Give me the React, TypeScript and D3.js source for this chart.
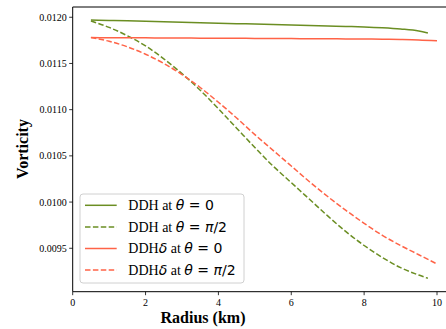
import React from "react";
import * as d3 from "d3";

const radiusGreen = [0.5, 1.0, 1.5, 2.0, 2.5, 3.0, 3.5, 4.0, 4.5, 5.0, 5.5, 6.0, 6.5, 7.0, 7.5, 8.0, 8.5, 9.0, 9.5, 9.75];
const radiusRed = [0.5, 1.0, 1.5, 2.0, 2.5, 3.0, 3.5, 4.0, 4.5, 5.0, 5.5, 6.0, 6.5, 7.0, 7.5, 8.0, 8.5, 9.0, 9.5, 10.0];

const ddhTheta0 = [0.01197, 0.011966, 0.011961, 0.011956, 0.011951, 0.011946, 0.011941, 0.011936, 0.011931, 0.011926, 0.011921, 0.011916, 0.011911, 0.011906, 0.011901, 0.011895, 0.011886, 0.011873, 0.011852, 0.01183];
const ddhThetaPi2 = [0.01196, 0.01189, 0.0118, 0.01169, 0.01155, 0.01139, 0.01121, 0.01101, 0.0108, 0.01059, 0.01039, 0.01021, 0.01003, 0.00985, 0.00968, 0.00953, 0.0094, 0.00929, 0.00921, 0.009175];
const ddhdTheta0 = [0.01178, 0.011779, 0.011778, 0.011777, 0.011776, 0.011775, 0.011774, 0.011773, 0.011772, 0.011771, 0.01177, 0.011769, 0.011768, 0.011767, 0.011766, 0.011765, 0.011763, 0.01176, 0.011755, 0.011745];
const ddhdThetaPi2 = [0.01178, 0.01174, 0.01168, 0.0116, 0.0115, 0.01138, 0.01124, 0.01108, 0.01091, 0.01073, 0.01056, 0.01039, 0.01022, 0.01006, 0.00991, 0.00977, 0.00964, 0.00953, 0.00943, 0.00933];

const xTicks = [0, 2, 4, 6, 8, 10];
const yTicks = [0.0095, 0.01, 0.0105, 0.011, 0.0115, 0.012];

const GREEN = "#6b8e23";
const RED = "#ff6347";

const series = [
  { xs: radiusGreen, ys: ddhTheta0, color: GREEN, dash: "", label: "DDH", theta: "0" },
  { xs: radiusGreen, ys: ddhThetaPi2, color: GREEN, dash: "5.5,2.4", label: "DDH", theta: "π/2" },
  { xs: radiusRed, ys: ddhdTheta0, color: RED, dash: "", label: "DDHδ", theta: "0" },
  { xs: radiusRed, ys: ddhdThetaPi2, color: RED, dash: "5.5,2.4", label: "DDHδ", theta: "π/2" },
];

export default function App() {
  const W = 446, H = 329;
  const left = 72.7, top = 7, bottom = 291.7;
  const x = d3.scaleLinear().domain([0, 10]).range([left, 437]);
  const y = d3.scaleLinear().domain([0.00903, 0.012111]).range([bottom, top]);
  const line = d3.line<[number, number]>().x(d => x(d[0])).y(d => y(d[1])).curve(d3.curveMonotoneX);
  const serif = "'Liberation Serif', 'Times New Roman', serif";
  const math = "'DejaVu Sans', sans-serif";
  return (
    <svg width={W} height={H} style={{ position: "absolute", left: 0, top: 0, background: "#fff" }}>
      <rect x={0} y={0} width={W} height={H} fill="#fff" />
      {series.map((s, i) => (
        <path key={i} d={line(s.xs.map((v, j) => [v, s.ys[j]] as [number, number])) || ""}
          fill="none" stroke={s.color} strokeWidth={1.5} strokeDasharray={s.dash || undefined} />
      ))}
      <line x1={left} x2={left} y1={top} y2={bottom} stroke="#000" strokeWidth={1} />
      <line x1={left} x2={W} y1={top} y2={top} stroke="#000" strokeWidth={1} />
      <line x1={left} x2={W} y1={bottom} y2={bottom} stroke="#000" strokeWidth={1} />
      {xTicks.map(t => (
        <g key={t}>
          <line x1={x(t)} x2={x(t)} y1={bottom} y2={bottom + 3.5} stroke="#000" strokeWidth={0.8} />
          <text x={x(t)} y={bottom + 14} fontFamily={serif} fontSize={10} textAnchor="middle">{t}</text>
        </g>
      ))}
      {yTicks.map(t => (
        <g key={t}>
          <line x1={left - 3.5} x2={left} y1={y(t)} y2={y(t)} stroke="#000" strokeWidth={0.8} />
          <text x={left - 6} y={y(t) + 3.5} fontFamily={serif} fontSize={10} textAnchor="end">{t.toFixed(4)}</text>
        </g>
      ))}
      <text x={203} y={323} fontFamily={serif} fontSize={16} fontWeight="bold" textAnchor="middle">Radius (km)</text>
      <text transform={`translate(28,149) rotate(-90)`} fontFamily={serif} fontSize={16} fontWeight="bold" textAnchor="middle">Vorticity</text>
      <rect x={80} y={194} width={164} height={89} rx={3} fill="#fff" fillOpacity={0.8} stroke="#d0d0d0" strokeWidth={1} />
      {series.map((s, i) => {
        const ry = 205.3 + i * 21.6;
        return (
          <g key={i}>
            <line x1={85} x2={116.7} y1={ry} y2={ry} stroke={s.color} strokeWidth={1.5} strokeDasharray={s.dash || undefined} />
            <text x={128.3} y={ry + 4.8} fontSize={14} fontFamily={serif}>
              {s.label.replace("δ", "")}
              {s.label.includes("δ") && <tspan fontFamily={math} fontStyle="italic">δ</tspan>}
              <tspan> at </tspan>
              <tspan fontFamily={math} fontStyle="italic">θ</tspan>
              <tspan fontFamily={math}> = </tspan>
              {s.theta === "0" ? <tspan fontFamily={math}>0</tspan> : (
                <>
                  <tspan fontFamily={math} fontStyle="italic">π</tspan>
                  <tspan fontFamily={math}>/2</tspan>
                </>
              )}
            </text>
          </g>
        );
      })}
    </svg>
  );
}
